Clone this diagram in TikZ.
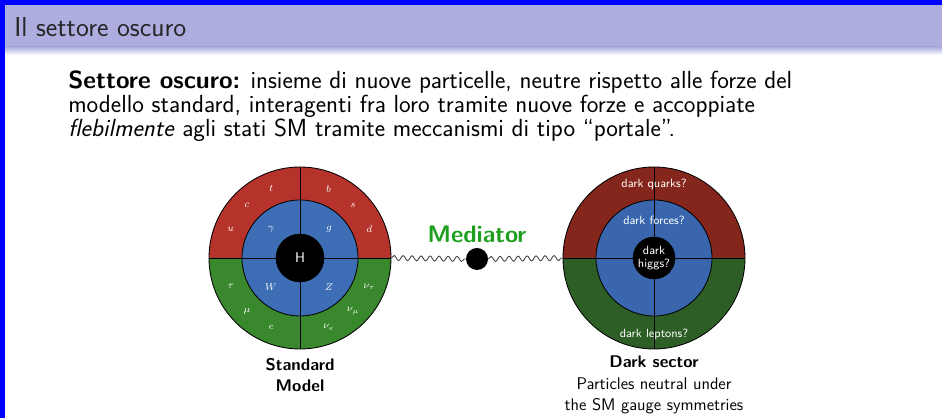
\documentclass[tikz,border=0pt]{standalone}
\usetikzlibrary{decorations.pathmorphing}
\renewcommand{\familydefault}{\sfdefault}

\definecolor{cornice}{RGB}{0,0,255}
\definecolor{barra}{RGB}{173,173,224}
\definecolor{smrosso}{RGB}{181,51,42}
\definecolor{smverde}{RGB}{58,136,45}
\definecolor{smblu}{RGB}{61,109,181}
\definecolor{dkrosso}{RGB}{132,38,28}
\definecolor{dkverde}{RGB}{45,94,37}
\definecolor{dkblu}{RGB}{58,102,174}
\definecolor{verdemed}{RGB}{30,160,30}

\tikzset{
	riga/.style={anchor=base west, inner sep=0pt, font=\fontsize{17.6}{20}\selectfont},
	etich/.style={text=white, inner sep=0pt, font=\fontsize{7}{8}\selectfont},
	etichdk/.style={text=white, inner sep=0pt, align=center, font=\fontsize{8.5}{9.5}\selectfont},
	bordo/.style={draw=black, line width=0.6pt},
	onda/.style={draw=black!75, line width=0.6pt, decorate,
		decoration={snake, amplitude=1.8pt, segment length=6.4pt}},
	didascalia/.style={align=center, inner sep=0pt, font=\fontsize{12}{15.2}\selectfont}
}

\begin{document}
\begin{tikzpicture}[x=0.025cm, y=0.025cm]
	\useasboundingbox (0,0) rectangle (942,418);
	% sfondo e cornice
	\fill[white] (0,0) rectangle (942,418);
	\fill[cornice] (0,0) rectangle (5,418);
	\fill[cornice] (0,413) rectangle (942,418);
	% barra del titolo
	\fill[barra] (5,371) rectangle (942,413);
	\shade[top color=barra, bottom color=white] (5,363) rectangle (942,371);
	\node[anchor=west, inner sep=0pt, text=black!85, font=\fontsize{19.5}{21}\selectfont] (titolo) at (14,391) {Il settore oscuro};

	% testo
	\node[riga] (riga1) at (68,329) {\textbf{Settore oscuro:} insieme di nuove particelle, neutre rispetto alle forze del};
	\node[riga] (riga2) at (68,305) {modello standard, interagenti fra loro tramite nuove forze e accoppiate};
	\node[riga] (riga3) at (68,281) {\textit{flebilmente} agli stati SM tramite meccanismi di tipo \textquotedblleft portale\textquotedblright.};

	% modello standard
	\coordinate (sm) at (300,160);
	\fill[smrosso] ([shift={(0:91)}]sm) arc[start angle=0, end angle=180, radius=91] -- cycle;
	\fill[smverde] ([shift={(180:91)}]sm) arc[start angle=180, end angle=360, radius=91] -- cycle;
	\filldraw[bordo, fill=smblu] (sm) circle (58);
	\draw[bordo] ([shift={(180:91)}]sm) -- ([shift={(0:91)}]sm);
	\draw[bordo] ([shift={(90:91)}]sm) -- ([shift={(270:91)}]sm);
	\draw[bordo] (sm) circle (91);
	\filldraw[fill=black, draw=black] (sm) circle (24);
	\node[text=white, font=\fontsize{10}{12}\selectfont] (higgs) at (sm) {H};
	\foreach \ang/\lab [count=\i] in {112.5/t, 135/c, 157.5/u, 67.5/b, 45/s, 22.5/d,
		202.5/\tau, 225/\mu, 247.5/e, 337.5/\nu_\tau, 315/\nu_\mu, 292.5/\nu_e}
		\node[etich] (fermione\i) at ([shift={(\ang:75)}]sm) {$\lab$};
	\foreach \ang/\lab [count=\i] in {135/\gamma, 45/g, 225/W, 315/Z}
		\node[etich] (bosone\i) at ([shift={(\ang:41)}]sm) {$\lab$};
	\node[circle, minimum size=4.55cm, inner sep=0pt] (smc) at (sm) {};

	% settore oscuro
	\coordinate (dk) at (654,160);
	\fill[dkrosso] ([shift={(0:91)}]dk) arc[start angle=0, end angle=180, radius=91] -- cycle;
	\fill[dkverde] ([shift={(180:91)}]dk) arc[start angle=180, end angle=360, radius=91] -- cycle;
	\filldraw[bordo, fill=dkblu] (dk) circle (58);
	\draw[bordo] ([shift={(180:91)}]dk) -- ([shift={(0:91)}]dk);
	\draw[bordo] ([shift={(90:91)}]dk) -- ([shift={(270:91)}]dk);
	\draw[bordo] (dk) circle (91);
	\filldraw[fill=black, draw=black] (dk) circle (21);
	\node[etichdk] (dkhiggs) at (dk) {dark\\higgs?};
	\node[etichdk] (dkquark) at ([yshift=74*0.025cm]dk) {dark quarks?};
	\node[etichdk] (dkforze) at ([yshift=38*0.025cm]dk) {dark forces?};
	\node[etichdk] (dkleptoni) at ([yshift=-76*0.025cm]dk) {dark leptons?};
	\node[circle, minimum size=4.55cm, inner sep=0pt] (dkc) at (dk) {};

	% mediatore
	\node[circle, fill=black, minimum size=0.55cm, inner sep=0pt] (med) at (477,159) {};
	\draw[onda] (smc.east) -- (med.west);
	\draw[onda] (med.east) -- (dkc.west);
	\node[text=verdemed, font=\fontsize{17}{20}\selectfont\bfseries] (medtesto) at (477,184) {Mediator};

	% didascalie
	\node[didascalia] (smlab) at (300,43) {\textbf{Standard}\\\textbf{Model}};
	\node[didascalia] (dklab) at (654,33) {\textbf{Dark sector}\\Particles neutral under\\the SM gauge symmetries};
\end{tikzpicture}
\end{document}
